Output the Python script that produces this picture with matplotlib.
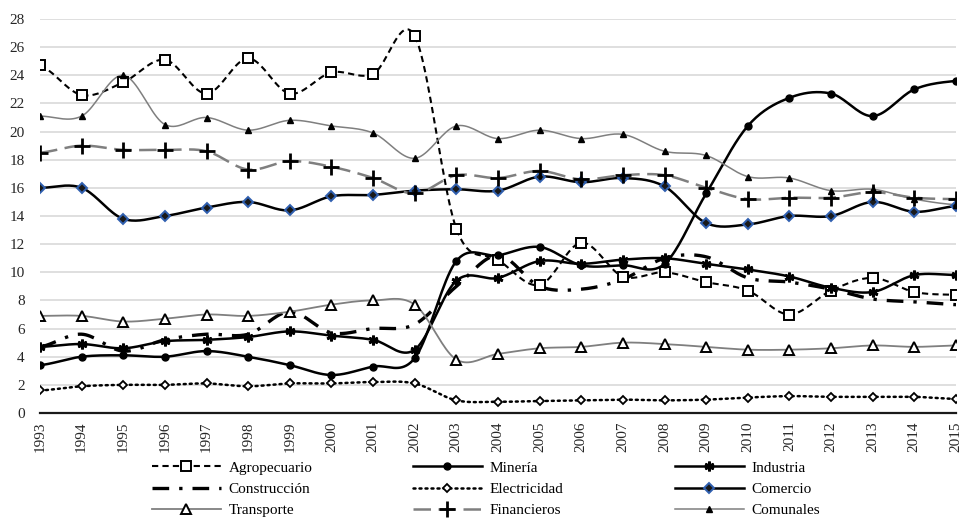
import numpy as np
import matplotlib
matplotlib.use("Agg")
import matplotlib.pyplot as plt
from matplotlib.lines import Line2D

# data (% share by sector)
years = list(range(1993, 2016))

agropecuario = [24.7, 22.6, 23.5, 25.1, 22.7, 25.2, 22.7, 24.2, 24.1, 26.8, 13.1, 10.9,
                9.1, 12.1, 9.7, 10.0, 9.3, 8.7, 7.0, 8.7, 9.6, 8.6, 8.4]
mineria = [3.4, 4.0, 4.1, 4.0, 4.4, 4.0, 3.4, 2.7, 3.3, 3.9, 10.8, 11.2,
           11.8, 10.5, 10.5, 10.6, 15.6, 20.4, 22.4, 22.7, 21.1, 23.0, 23.6]
industria = [4.7, 4.9, 4.6, 5.1, 5.2, 5.4, 5.8, 5.5, 5.2, 4.5, 9.4, 9.6,
             10.8, 10.6, 10.9, 11.0, 10.6, 10.2, 9.7, 8.9, 8.6, 9.8, 9.8]
construccion = [4.7, 5.6, 4.4, 5.2, 5.6, 5.6, 7.2, 5.7, 6.0, 6.3, 9.0, 11.2,
                9.0, 8.8, 9.5, 11.0, 11.1, 9.6, 9.3, 8.8, 8.1, 7.9, 7.7]
electricidad = [1.6, 1.9, 2.0, 2.0, 2.1, 1.9, 2.1, 2.1, 2.2, 2.1, 0.9, 0.8,
                0.85, 0.9, 0.95, 0.9, 0.95, 1.1, 1.2, 1.15, 1.15, 1.15, 1.0]
comercio = [16.0, 16.0, 13.8, 14.0, 14.6, 15.0, 14.4, 15.4, 15.5, 15.8, 15.9, 15.8,
            16.8, 16.4, 16.7, 16.1, 13.5, 13.4, 14.0, 14.0, 15.0, 14.3, 14.7]
transporte = [6.9, 6.9, 6.5, 6.7, 7.0, 6.9, 7.2, 7.7, 8.0, 7.7, 3.8, 4.2,
              4.6, 4.7, 5.0, 4.9, 4.7, 4.5, 4.5, 4.6, 4.8, 4.7, 4.8]
financieros = [18.5, 19.0, 18.7, 18.7, 18.6, 17.3, 17.9, 17.5, 16.7, 15.6, 16.9, 16.7,
               17.2, 16.6, 16.9, 16.9, 16.0, 15.2, 15.3, 15.3, 15.7, 15.3, 15.2]
comunales = [21.1, 21.1, 24.0, 20.5, 21.0, 20.1, 20.8, 20.4, 19.9, 18.1, 20.4, 19.5,
             20.1, 19.5, 19.8, 18.6, 18.3, 16.8, 16.7, 15.8, 15.9, 15.2, 14.8]

FONT = "Liberation Serif"
GRAY = "#7f7f7f"


def smooth(x, y, n=20):
    # excel-style smoothed line (catmull-rom / cubic hermite)
    x = np.asarray(x, float)
    y = np.asarray(y, float)
    m = np.empty_like(y)
    m[1:-1] = (y[2:] - y[:-2]) / 2
    m[0] = (y[1] - y[0]) / 2
    m[-1] = (y[-1] - y[-2]) / 2
    xs, ys = [], []
    for i in range(len(x) - 1):
        t = np.linspace(0, 1, n, endpoint=False)
        h00 = 2 * t**3 - 3 * t**2 + 1
        h10 = t**3 - 2 * t**2 + t
        h01 = -2 * t**3 + 3 * t**2
        h11 = t**3 - t**2
        xs.append(x[i] + t * (x[i + 1] - x[i]))
        ys.append(h00 * y[i] + h10 * m[i] + h01 * y[i + 1] + h11 * m[i + 1])
    xs.append([x[-1]])
    ys.append([y[-1]])
    return np.concatenate(xs), np.concatenate(ys)


series = [
    ("Agropecuario", agropecuario,
     dict(color="black", lw=1.5, dashes=(3, 2)),
     dict(marker="s", ms=7, mfc="white", mec="black", mew=1.4)),
    ("Minería", mineria,
     dict(color="black", lw=1.8),
     dict(marker="o", ms=5, mfc="black", mec="black")),
    ("Industria", industria,
     dict(color="black", lw=1.8),
     dict(marker=(6, 2, 0), ms=7, mec="black", mew=2)),
    ("Construcción", construccion,
     dict(color="black", lw=2.4, dashes=(5, 3, 1, 3)),
     None),
    ("Electricidad", electricidad,
     dict(color="black", lw=1.8, dashes=(0.8, 1.6), dash_capstyle="round"),
     dict(marker="D", ms=4.5, mfc="white", mec="black", mew=1.3)),
    ("Comercio", comercio,
     dict(color="black", lw=1.8),
     dict(marker="D", ms=5, mfc="#1a1a1a", mec="#3060b0", mew=1.4)),
    ("Transporte", transporte,
     dict(color=GRAY, lw=1.3),
     dict(marker="^", ms=7, mfc="white", mec="black", mew=1.4)),
    ("Financieros", financieros,
     dict(color=GRAY, lw=1.8, dashes=(7, 3)),
     dict(marker="+", ms=11, mec="black", mew=2)),
    ("Comunales", comunales,
     dict(color=GRAY, lw=1.1),
     dict(marker="^", ms=5, mfc="black", mec="black")),
]

fig = plt.figure(figsize=(9.61, 5.23), dpi=100)
ax = fig.add_axes([40 / 961, 1 - 413 / 523, (956 - 40) / 961, (413 - 19) / 523])

handles = []
for name, vals, lstyle, mstyle in series:
    sx, sy = smooth(years, vals)
    ax.plot(sx, sy, zorder=3, **lstyle)
    if mstyle is not None:
        ax.plot(years, vals, ls="none", zorder=4, **mstyle)
    h = Line2D([], [], **lstyle, **(mstyle or {}))
    handles.append((h, name))

ax.set_xlim(1993, 2015)
ax.set_ylim(0, 28)
ax.set_yticks(range(0, 29, 2))
ax.set_xticks(years)
ax.set_xticklabels([str(y) for y in years], rotation=90, va="top", ha="center")
ax.grid(axis="y", color="#d9d9d9", lw=1.2)
ax.set_axisbelow(True)
for side in ["top", "right", "left"]:
    ax.spines[side].set_visible(False)
ax.spines["bottom"].set_color("#1a1a1a")
ax.spines["bottom"].set_linewidth(1.6)
ax.spines["bottom"].set_zorder(5)
ax.tick_params(axis="both", length=0, labelsize=11)
ax.tick_params(axis="y", pad=11)
ax.tick_params(axis="x", pad=6)
for lbl in ax.get_xticklabels() + ax.get_yticklabels():
    lbl.set_fontfamily(FONT)
    lbl.set_color("#262626")

# three legend columns placed under the plot
col_x = [152, 413, 675]
for c in range(3):
    hs = [handles[r * 3 + c] for r in range(3)]
    fig.legend([h for h, _ in hs], [n for _, n in hs],
               loc="upper left", bbox_to_anchor=(col_x[c] / 961, 1 - 461 / 523),
               frameon=False, borderpad=0, borderaxespad=0,
               handlelength=4.5, handletextpad=0.5, labelspacing=0.5,
               prop={"family": FONT, "size": 11})

fig.savefig("out.png", dpi=100)
